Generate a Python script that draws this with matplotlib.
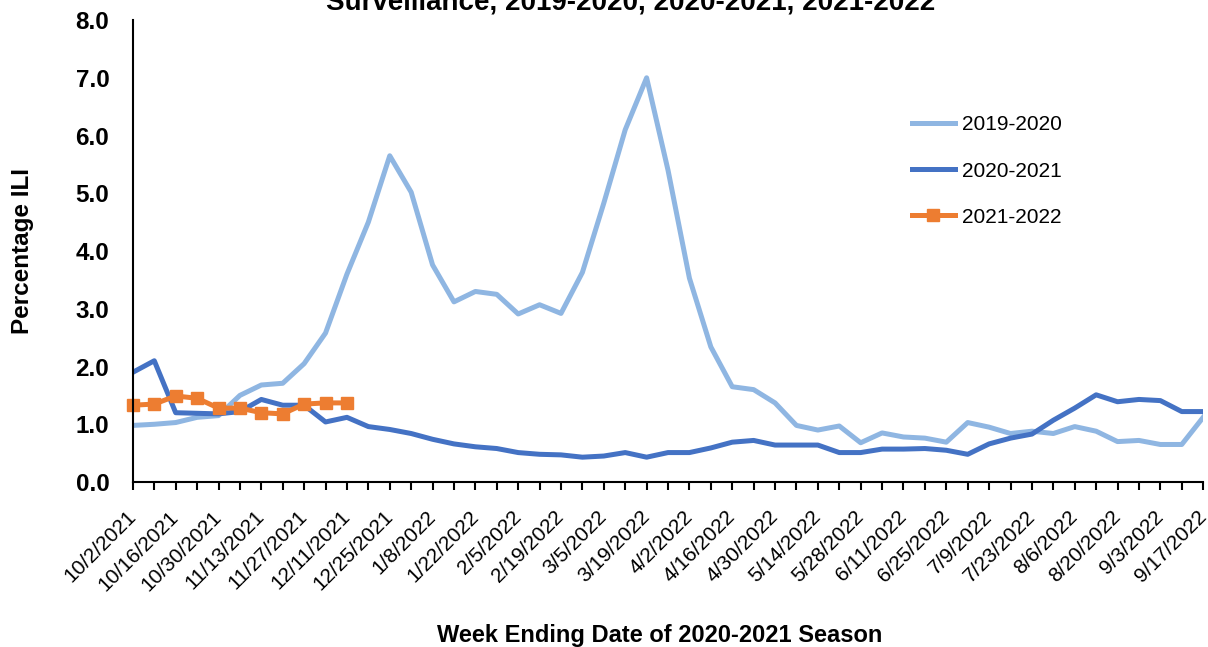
import matplotlib.pyplot as plt
from matplotlib.transforms import ScaledTranslation

plt.rcParams['font.family'] = ['Liberation Sans', 'DejaVu Sans']

# week ending dates (every week), labels shown every 2 weeks
tick_labels = ["10/2/2021", "10/16/2021", "10/30/2021", "11/13/2021", "11/27/2021",
               "12/11/2021", "12/25/2021", "1/8/2022", "1/22/2022", "2/5/2022",
               "2/19/2022", "3/5/2022", "3/19/2022", "4/2/2022", "4/16/2022",
               "4/30/2022", "5/14/2022", "5/28/2022", "6/11/2022", "6/25/2022",
               "7/9/2022", "7/23/2022", "8/6/2022", "8/20/2022", "9/3/2022", "9/17/2022"]

ili_2019_2020 = [0.98, 1.00, 1.03, 1.12, 1.15, 1.50, 1.68, 1.71, 2.05, 2.58,
                 3.60, 4.50, 5.65, 5.02, 3.76, 3.12, 3.30, 3.25, 2.91, 3.07,
                 2.92, 3.63, 4.83, 6.10, 7.00, 5.40, 3.53, 2.34, 1.65, 1.60,
                 1.37, 0.98, 0.90, 0.97, 0.68, 0.85, 0.78, 0.76, 0.69, 1.03,
                 0.95, 0.84, 0.88, 0.84, 0.96, 0.88, 0.70, 0.72, 0.65, 0.65, 1.12]

ili_2020_2021 = [1.90, 2.10, 1.20, 1.19, 1.18, 1.22, 1.43, 1.33, 1.33, 1.04,
                 1.12, 0.96, 0.91, 0.84, 0.74, 0.66, 0.61, 0.58, 0.51, 0.48,
                 0.47, 0.43, 0.45, 0.51, 0.43, 0.51, 0.51, 0.59, 0.69, 0.72,
                 0.64, 0.64, 0.64, 0.51, 0.51, 0.57, 0.57, 0.58, 0.55, 0.48,
                 0.66, 0.76, 0.83, 1.07, 1.28, 1.51, 1.39, 1.43, 1.41, 1.22, 1.22]

ili_2021_2022 = [1.33, 1.35, 1.49, 1.45, 1.28, 1.28, 1.20, 1.18, 1.35, 1.37, 1.37]

weeks = list(range(len(ili_2020_2021)))

fig = plt.figure(figsize=(12.08, 6.47), dpi=100)
ax = fig.add_axes([0.110, 0.255, 0.886, 0.714])

ax.plot(weeks, ili_2019_2020, color="#8FB6E2", lw=3.6, label="2019-2020", solid_joinstyle="round")
ax.plot(weeks, ili_2020_2021, color="#4472C4", lw=3.6, label="2020-2021", solid_joinstyle="round")
ax.plot(weeks[:len(ili_2021_2022)], ili_2021_2022, color="#ED7D31", lw=3.6,
        marker="s", markersize=8, label="2021-2022", clip_on=False)

ax.set_xlim(0, 50)
ax.set_ylim(0, 8)
ax.set_yticks([i for i in range(9)])
ax.set_yticklabels(["%.1f" % i for i in range(9)], fontsize=17.5, fontweight="bold")
ax.set_xticks(weeks, minor=True)
ax.set_xticks(list(range(0, 51, 2)))
ax.set_xticklabels(tick_labels, rotation=45, ha="right", va="center",
                   rotation_mode="anchor", fontsize=15)
ax.tick_params(axis="x", which="both", direction="out", length=6, width=1.5, pad=9)
ax.tick_params(axis="y", length=0, pad=17)

# nudge the slanted date labels down like the original
offset = ScaledTranslation(0.0, -0.11, fig.dpi_scale_trans)
for lab in ax.get_xticklabels():
    lab.set_transform(lab.get_transform() + offset)

for s in ["top", "right"]:
    ax.spines[s].set_visible(False)
ax.spines["left"].set_linewidth(1.5)
ax.spines["bottom"].set_linewidth(1.5)

ax.set_ylabel("Percentage ILI", fontsize=17.5, fontweight="bold")
ax.yaxis.set_label_coords(-0.092, 0.5)
fig.text(0.546, 0.0185, "Week Ending Date of 2020-2021 Season", ha="center", va="center",
         fontsize=17, fontweight="bold")
fig.text(0.522, 0.986, "Surveillance, 2019-2020, 2020-2021, 2021-2022", ha="center",
         va="baseline", fontsize=20, fontweight="bold")

ax.legend(loc="upper left", bbox_to_anchor=(0.71, 0.834), frameon=False, fontsize=15,
          handlelength=2.1, labelspacing=1.3, handletextpad=0.3)

fig.savefig("out.png", dpi=100)
